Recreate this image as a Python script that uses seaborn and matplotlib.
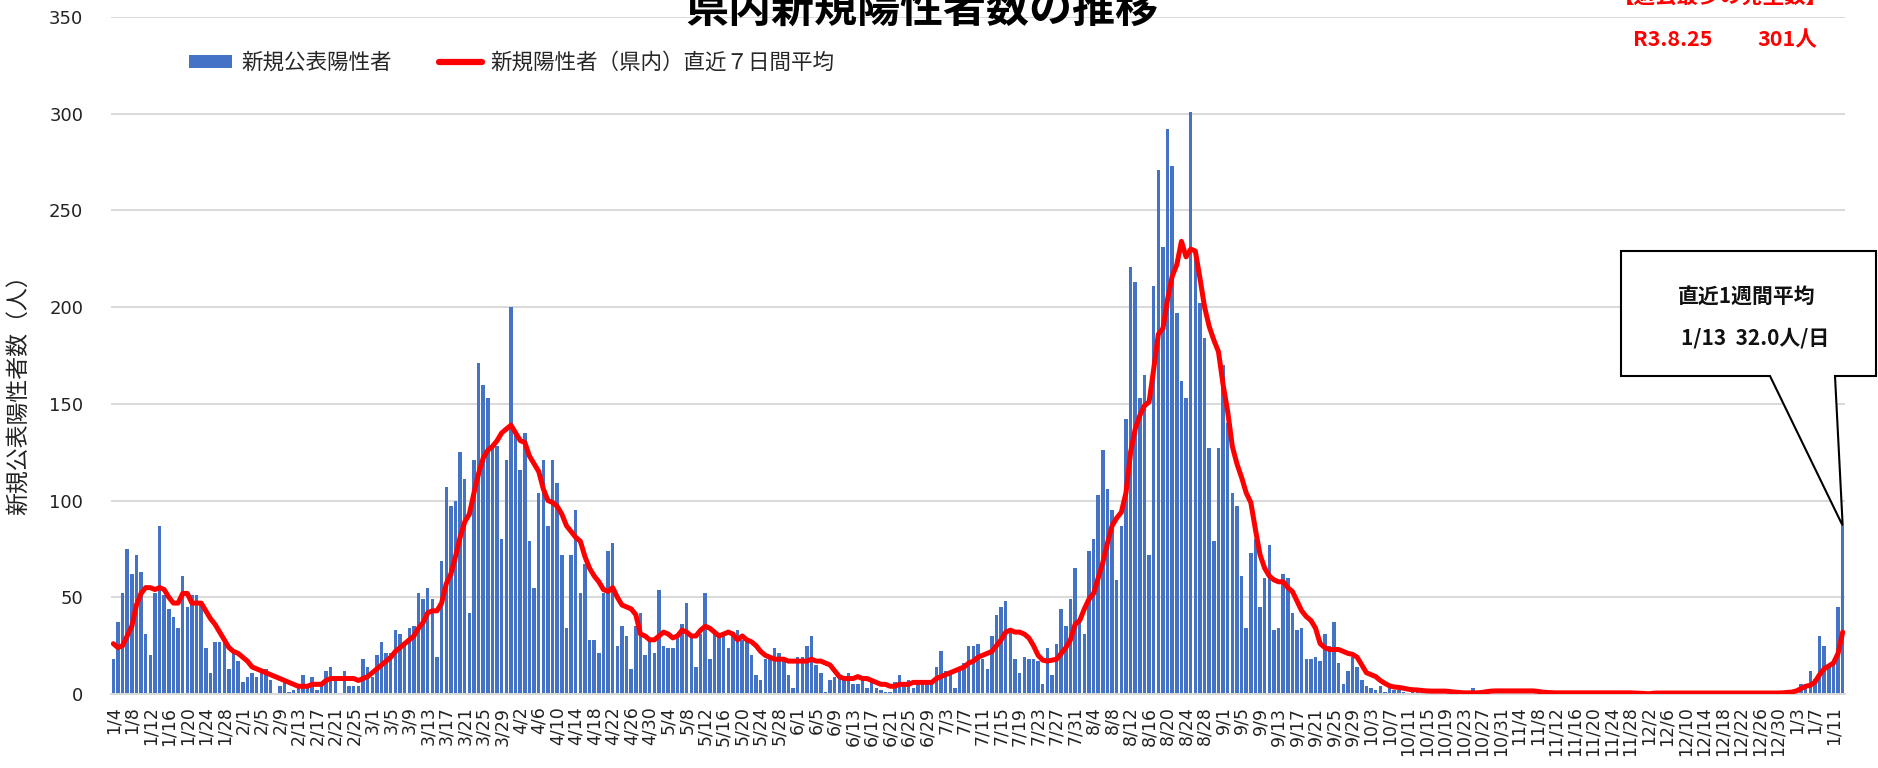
# 県内新規陽性者数の推移 - daily new cases with 7-day average
import numpy as np
import pandas as pd
import matplotlib
matplotlib.use("Agg")
import matplotlib.pyplot as plt
import seaborn as sns
from matplotlib.patches import Patch, Polygon
from matplotlib.lines import Line2D

# ==========================
# DATA
# ==========================
start_date = "2021-01-04"

# daily new published cases, month by month
new_jan21 = [18, 37, 52, 75, 62, 72, 63, 31, 20, 52, 87, 51, 44, 40, 34, 61, 45, 51, 51, 48,
             24, 11, 27, 27, 27, 13, 21, 17]
new_feb21 = [6, 9, 11, 9, 12, 13, 7, 0, 4, 6, 1, 2, 3, 10, 3, 9, 2, 4, 12, 14,
             9, 0, 12, 4, 4, 4, 18, 14]
new_mar21 = [9, 20, 27, 21, 21, 33, 31, 25, 34, 35, 52, 49, 55, 49, 19, 69, 107, 97, 100, 125,
             111, 42, 121, 171, 160, 153, 127, 128, 80, 121, 200]
new_apr21 = [134, 116, 135, 79, 55, 104, 121, 87, 121, 109, 72, 34, 72, 95, 52, 67, 28, 28, 21, 52,
             74, 78, 25, 35, 30, 13, 35, 42, 20, 28]
new_may21 = [21, 54, 25, 24, 24, 31, 36, 47, 30, 14, 31, 52, 18, 31, 30, 31, 24, 32, 33, 28,
             28, 20, 10, 7, 18, 18, 24, 21, 18, 10, 3]
new_jun21 = [19, 19, 25, 30, 15, 11, 1, 7, 9, 9, 9, 11, 5, 5, 7, 3, 6, 3, 2, 1,
             1, 6, 10, 6, 7, 3, 6, 6, 6, 6]
new_jul21 = [14, 22, 12, 12, 3, 14, 16, 25, 25, 26, 18, 13, 30, 41, 45, 48, 33, 18, 11, 19,
             18, 18, 17, 5, 24, 10, 26, 44, 35, 49, 65]
new_aug21 = [37, 31, 74, 80, 103, 126, 106, 95, 59, 87, 142, 221, 213, 153, 165, 72, 211, 271, 231, 292,
             273, 197, 162, 153, 301, 225, 202, 184, 127, 79, 127]
new_sep21 = [170, 140, 104, 97, 61, 34, 73, 80, 45, 60, 77, 33, 34, 62, 60, 42, 33, 34, 18, 18,
             19, 17, 31, 25, 37, 16, 5, 12, 19, 14]
new_oct21 = [7, 4, 3, 2, 4, 1, 3, 2, 2, 1, 0, 1, 1, 2, 0, 1, 2, 1, 2, 1,
             0, 1, 0, 0, 3, 0, 1, 2, 2, 1, 2]
new_nov21 = [2, 1, 2, 1, 2, 1, 2, 1, 0, 1, 1, 0, 1, 1, 0, 1, 0, 1, 1, 0,
             1, 0, 1, 1, 0, 1, 0, 1, 0, 0]
new_dec21 = [0, 0, 1, 0, 1, 0, 1, 0, 1, 0, 0, 1, 0, 1, 0, 0, 1, 0, 1, 0,
             0, 1, 0, 1, 0, 0, 1, 0, 1, 0, 0]
new_jan22 = [1, 2, 2, 5, 5, 12, 8, 30, 25, 15, 16, 45, 87]

# 7-day average (in prefecture), month by month
avg_jan21 = [26, 24, 25, 30, 35, 46, 52, 55, 55, 54, 55, 54, 50, 47, 47, 52, 52, 47, 47, 47,
             43, 39, 36, 32, 28, 24, 22, 21]
avg_feb21 = [19, 17, 14, 13, 12, 11, 10, 9, 8, 7, 6, 5, 4, 4, 4, 5, 5, 5, 7, 8,
             8, 8, 8, 8, 8, 7, 8, 9]
avg_mar21 = [11, 13, 15, 17, 19, 22, 24, 26, 28, 30, 34, 37, 42, 43, 43, 47, 57, 62, 71, 81,
             89, 93, 104, 114, 122, 126, 128, 131, 135, 137, 139]
avg_apr21 = [135, 131, 130, 123, 119, 115, 106, 100, 99, 97, 93, 87, 84, 81, 79, 71, 65, 61, 58, 54,
             53, 55, 50, 46, 45, 44, 41, 31, 30, 28]
avg_may21 = [28, 30, 32, 31, 29, 30, 33, 32, 30, 30, 33, 35, 34, 32, 30, 31, 32, 31, 28, 30,
             28, 27, 25, 22, 20, 19, 18, 18, 18, 17, 17]
avg_jun21 = [17, 17, 17, 18, 17, 17, 16, 15, 12, 9, 8, 8, 8, 9, 8, 8, 7, 6, 5, 5,
             4, 4, 5, 5, 5, 6, 6, 6, 6, 6]
avg_jul21 = [8, 9, 10, 11, 12, 13, 14, 16, 17, 19, 20, 21, 22, 25, 28, 32, 33, 32, 32, 31,
             29, 25, 20, 17.5, 17, 17.5, 18, 21, 24, 28, 36]
avg_aug21 = [38, 44, 49, 52, 60, 68, 78, 87, 91, 94, 104, 125, 137, 144, 149, 151, 168, 186, 189, 204,
             216, 222, 234, 226, 230, 229, 215, 200, 190, 183, 177]
avg_sep21 = [160, 146, 128, 119, 112, 104, 99, 85, 72, 65, 61, 59, 58, 58, 55, 53, 48, 43, 40, 38,
             34, 26, 24, 23, 23, 23, 22, 21, 20.5, 19]
avg_oct21 = [15, 11, 10, 9, 7, 5.5, 4.2, 3.6, 3.4, 3, 2.5, 2.2, 2.1, 1.8, 1.6, 1.5, 1.5, 1.5, 1.5, 1.3,
             1.0, 0.8, 0.6, 0.6, 0.6, 0.6, 0.8, 1.2, 1.5, 1.6, 1.6]
avg_nov21 = [1.6, 1.6, 1.6, 1.6, 1.6, 1.6, 1.6, 1.4, 1.0, 0.8, 0.7, 0.6, 0.6, 0.6, 0.6, 0.6, 0.6, 0.6, 0.6, 0.6,
             0.6, 0.6, 0.6, 0.6, 0.6, 0.6, 0.6, 0.6, 0.5, 0.4]
avg_dec21 = [0.3, 0.1, 0.4, 0.5, 0.5, 0.5, 0.5, 0.5, 0.5, 0.5, 0.5, 0.5, 0.5, 0.5, 0.5, 0.5, 0.5, 0.5, 0.5, 0.5,
             0.5, 0.5, 0.5, 0.5, 0.5, 0.5, 0.5, 0.5, 0.5, 0.5, 0.6]
avg_jan22 = [0.8, 1.0, 1.6, 2.8, 4, 4.5, 6.2, 10, 13, 14.5, 16, 21, 32]

new_cases = (new_jan21 + new_feb21 + new_mar21 + new_apr21 + new_may21 + new_jun21 + new_jul21
             + new_aug21 + new_sep21 + new_oct21 + new_nov21 + new_dec21 + new_jan22)
avg_7day = (avg_jan21 + avg_feb21 + avg_mar21 + avg_apr21 + avg_may21 + avg_jun21 + avg_jul21
            + avg_aug21 + avg_sep21 + avg_oct21 + avg_nov21 + avg_dec21 + avg_jan22)

title = "県内新規陽性者数の推移"
bar_label = "新規公表陽性者"
line_label = "新規陽性者（県内）直近７日間平均"
y_label = "新規公表陽性者数（人）"
record_title = "【過去最多の発生数】"
box_title = "直近1週間平均"

BAR_BLUE = "#4472C4"
GRID_GRAY = "#D9D9D9"

# ==========================
# PREP
# ==========================
dates = pd.date_range(start_date, periods=len(new_cases), freq="D")
assert len(avg_7day) == len(dates)
tick_labels = [f"{d.month}/{d.day}" for d in dates]
df = pd.DataFrame({"day": np.arange(len(dates)), "new": new_cases, "avg": avg_7day})

peak_idx = int(np.argmax(new_cases))
peak_day = dates[peak_idx]
record_date = f"R{peak_day.year - 2018}.{peak_day.month}.{peak_day.day}"
record_value = f"{new_cases[peak_idx]}人"
last_day = dates[-1]
box_value = f"{last_day.month}/{last_day.day}  {avg_7day[-1]:.1f}人/日"

# ==========================
# PLOT
# ==========================
sns.set_style("white")
plt.rcParams["font.family"] = ["Noto Sans CJK JP", "DejaVu Sans"]

W, H = 1878, 768
fig = plt.figure(figsize=(W / 100, H / 100), dpi=100)
ax = fig.add_axes([111 / W, 1 - 694 / H, (1845 - 111) / W, (694 - 17) / H])

sns.barplot(data=df, x="day", y="new", color=BAR_BLUE, saturation=1,
            width=0.75, linewidth=0, ax=ax)
sns.lineplot(data=df, x="day", y="avg", color="red", linewidth=3.6,
             legend=False, ax=ax, zorder=3)

ax.set_xlim(-0.5, len(dates) - 0.5)
ax.set_ylim(0, 350)

# x axis: a label every 4 days
pos = np.arange(0, len(dates), 4)
ax.set_xticks(pos)
ax.set_xticklabels([tick_labels[i] for i in pos], rotation=90,
                   fontsize=12.5, family="DejaVu Sans", color="#222222")
ax.tick_params(axis="x", length=0, pad=9)
ax.set_xticks(pos - 0.5, minor=True)
ax.tick_params(axis="x", which="minor", length=6, color=GRID_GRAY, width=1.2)

# y axis
ax.set_yticks(range(0, 351, 50))
ax.set_yticklabels([str(v) for v in range(0, 351, 50)], fontsize=13,
                   family="DejaVu Sans", color="#222222")
ax.tick_params(axis="y", length=0, pad=20)
ax.set_xlabel("")
ax.set_ylabel(y_label, fontsize=16.5, color="#222222")
ax.yaxis.set_label_coords(-0.046, 0.45)

ax.yaxis.grid(True, color=GRID_GRAY, linewidth=1.4)
ax.xaxis.grid(False)
ax.set_axisbelow(True)
for side in ["top", "right", "left"]:
    ax.spines[side].set_visible(False)
ax.spines["bottom"].set_color(GRID_GRAY)
ax.spines["bottom"].set_linewidth(1.4)

# legend
handles = [Patch(facecolor=BAR_BLUE, edgecolor="none"),
           Line2D([0], [0], color="red", linewidth=4.5)]
fig.legend(handles, [bar_label, line_label], loc="center left",
           bbox_to_anchor=(170 / W, 1 - 63 / H), ncol=2, frameon=False,
           fontsize=15.5, handlelength=2.0, handleheight=0.6,
           handletextpad=0.4, columnspacing=2.2)

# title (cut by the top edge as in the original)
fig.text(922 / W, 1 - 22 / H, title, ha="center", va="baseline",
         fontsize=31, fontweight="bold", color="black")

# record note
fig.text(1720 / W, 1 - 4 / H, record_title, ha="center", va="baseline",
         fontsize=15.5, fontweight="bold", color="red")
fig.text(1633 / W, 1 - 46 / H, record_date, ha="left", va="baseline",
         fontsize=15.5, fontweight="bold", color="red")
fig.text(1757 / W, 1 - 46 / H, record_value, ha="left", va="baseline",
         fontsize=15.5, fontweight="bold", color="red")

# callout box pointing at the last bar
tip = fig.transFigure.inverted().transform(
    ax.transData.transform((len(dates) - 1, new_cases[-1])))
def fpt(x, y):
    return (x / W, 1 - y / H)
verts = [fpt(1621, 251), fpt(1876, 251), fpt(1876, 376), fpt(1835, 376),
         tuple(tip), fpt(1770, 376), fpt(1621, 376)]
fig.add_artist(Polygon(verts, closed=True, facecolor="white", edgecolor="black",
                       linewidth=1.5, transform=fig.transFigure, zorder=5))
fig.text(1747 / W, 1 - 296 / H, box_title, ha="center", va="center",
         fontsize=15, fontweight="bold", color="#111111", zorder=6)
fig.text(1755 / W, 1 - 338 / H, box_value, ha="center", va="center",
         fontsize=15, fontweight="bold", color="#111111", zorder=6)

fig.savefig("out.png", dpi=100)
